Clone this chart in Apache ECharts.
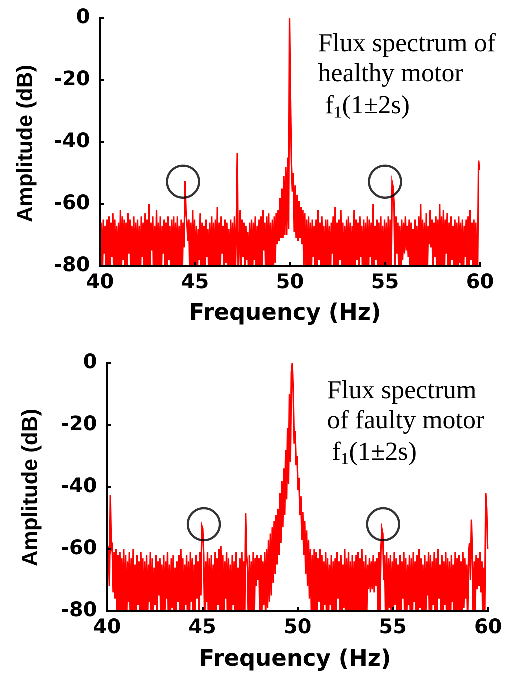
<!DOCTYPE html>
<html>
<head>
<meta charset="utf-8">
<title>Flux spectra</title>
<script src="https://cdn.jsdelivr.net/npm/echarts@6/dist/echarts.min.js"></script>
<style>
  html, body { margin: 0; padding: 0; background: #fff; }
  #chart { width: 505px; height: 675px; }
</style>
</head>
<body>
<div id="chart"></div>
<script>
// Spectrum bins: 40–60 Hz at 0.05 Hz resolution (401 bins per spectrum)
const FREQ_START = 40;
const FREQ_STEP = 0.05;

// Healthy motor flux spectrum, amplitude in dB (one row per Hz)
const healthyAmp = [
  -64, -85, -66, -84, -65, -76, -67, -86, -65, -83, -64, -88, -66, -77, -63, -85, -65, -82, -67, -84,
  -66, -85, -62, -83, -64, -78, -65, -86, -66, -84, -63, -76, -65, -87, -67, -82, -64, -85, -66, -84,
  -65, -84, -67, -86, -64, -77, -66, -85, -63, -82, -65, -88, -60, -84, -66, -75, -64, -86, -67, -83,
  -62, -85, -66, -84, -64, -86, -67, -76, -65, -83, -66, -85, -64, -78, -67, -84, -65, -86, -64, -82,
  -66, -85, -64, -85, -67, -84, -65, -86, -66, -74, -52.5, -63, -66, -72, -65, -84, -66, -85, -62, -84,
  -65, -86, -67, -84, -68, -78, -63, -85, -66, -83, -67, -87, -65, -77, -68, -84, -66, -86, -64, -82,
  -66, -84, -65, -85, -61, -86, -66, -86, -64, -76, -67, -85, -65, -79, -66, -84, -68, -87, -65, -83,
  -66, -85, -64, -82, -67, -43.5, -84, -84, -62, -86, -65, -77, -66, -85, -67, -78, -69, -86, -66, -84,
  -65, -85, -66, -78, -64, -86, -67, -84, -65, -83, -64, -86, -62, -75, -66, -85, -64, -84, -63, -82,
  -66, -85, -65, -83, -64, -79, -63, -73, -62, -72, -58, -71, -55, -71, -51, -70, -48, -70, -45, -68,
  0, -26, -47, -56, -50, -69, -54, -71, -57, -72, -59, -71, -61, -73, -62, -80, -63, -84, -65, -86,
  -64, -85, -66, -83, -65, -77, -67, -86, -65, -84, -62, -78, -66, -85, -64, -83, -67, -86, -65, -84,
  -65, -84, -67, -86, -66, -76, -64, -85, -61, -83, -66, -87, -65, -78, -62, -84, -66, -85, -67, -82,
  -65, -85, -64, -83, -66, -84, -67, -86, -62, -84, -65, -78, -66, -85, -64, -77, -67, -86, -65, -83,
  -66, -84, -64, -86, -65, -77, -66, -85, -60, -83, -67, -78, -65, -86, -66, -84, -64, -85, -67, -85,
  -65, -83, -66, -85, -64, -86, -65, -84, -53, -54.5, -60, -85, -64, -76, -66, -83, -67, -85, -65, -78,
  -66, -76, -64, -75, -67, -77, -65, -84, -66, -86, -68, -83, -65, -85, -67, -85, -64, -84, -60, -86,
  -65, -83, -66, -85, -63, -84, -67, -73, -62, -74, -65, -85, -66, -77, -64, -84, -65, -86, -60, -83,
  -64, -85, -62, -83, -65, -76, -63, -86, -66, -84, -64, -78, -67, -85, -65, -83, -66, -86, -64, -79,
  -66, -84, -65, -86, -67, -77, -65, -83, -64, -85, -62, -78, -66, -84, -65, -86, -66, -83, -80, -46,
  -49
];

// Faulty motor flux spectrum, amplitude in dB (one row per Hz)
const faultyAmp = [
  -59, -61, -60, -72, -42.5, -60, -59, -74, -61, -76, -60, -85, -62, -84, -61, -86, -63, -83, -60, -85,
  -62, -86, -64, -77, -61, -84, -63, -85, -60, -82, -65, -87, -62, -78, -64, -85, -61, -84, -63, -86,
  -64, -83, -62, -85, -65, -77, -61, -86, -63, -84, -66, -78, -62, -85, -64, -75, -63, -86, -65, -84,
  -62, -85, -64, -76, -61, -86, -65, -84, -63, -79, -62, -85, -66, -83, -64, -77, -62, -86, -60, -84,
  -63, -85, -65, -78, -62, -84, -64, -86, -61, -77, -63, -85, -65, -84, -62, -76, -64, -84, -61, -75,
  -52.5, -53.5, -62, -84, -64, -77, -61, -85, -63, -86, -62, -85, -65, -84, -61, -86, -63, -78, -60, -85,
  -59, -84, -62, -86, -64, -76, -61, -85, -63, -83, -65, -86, -62, -78, -64, -85, -61, -84, -66, -86,
  -63, -85, -61, -84, -64, -84, -48.5, -62, -66, -86, -62, -83, -64, -85, -61, -85, -63, -72, -62, -70,
  -63, -85, -62, -80, -64, -78, -61, -84, -60, -79, -57, -77, -55, -75, -53, -71, -51, -68, -49, -65,
  -47, -62, -42, -58, -38, -53, -34, -49, -28, -44, -21, -39, -10, -32, -3, 0, -10, -26, -22, -33,
  -30, -41, -37, -49, -43, -57, -48, -62, -51, -68, -54, -72, -57, -76, -60, -80, -62, -84, -60, -82,
  -61, -85, -63, -77, -60, -84, -62, -86, -64, -78, -61, -85, -63, -83, -65, -78, -62, -86, -64, -84,
  -63, -85, -61, -76, -64, -84, -62, -86, -65, -79, -60, -85, -63, -83, -61, -86, -64, -84, -62, -84,
  -64, -85, -62, -84, -61, -84, -63, -86, -60, -85, -64, -85, -62, -83, -65, -73, -63, -74, -64, -73,
  -62, -74, -64, -72, -63, -85, -61, -80, -60, -53.5, -55, -70, -62, -85, -61, -84, -63, -79, -62, -86,
  -64, -84, -61, -78, -63, -86, -65, -83, -62, -85, -64, -76, -61, -86, -63, -84, -65, -78, -62, -85,
  -63, -86, -61, -77, -64, -84, -62, -85, -60, -79, -63, -86, -65, -83, -62, -84, -64, -75, -61, -85,
  -62, -84, -64, -78, -61, -86, -63, -85, -60, -76, -65, -84, -62, -86, -64, -78, -61, -85, -63, -83,
  -64, -86, -62, -77, -65, -84, -61, -85, -63, -80, -62, -86, -64, -83, -61, -79, -63, -76, -65, -84,
  -62, -58, -70, -50.5, -62, -85, -64, -80, -62, -73, -63, -72, -61, -74, -64, -85, -66, -80, -42, -47,
  -60
];

// Circled sideband components f1(1±2s): [frequency Hz, amplitude dB]
const healthySidebands = [[44.37, -52.8], [55.0, -52.8]];
const faultySidebands = [[45.08, -52.0], [54.49, -52.0]];

// Axis ranges and tick spacing
const FREQ_MIN = 40, FREQ_MAX = 60, FREQ_TICK = 5;
const AMP_MIN = -80, AMP_MAX = 0, AMP_TICK = 20;

function toPairs(amp) {
  return amp.map((v, i) => [+(FREQ_START + i * FREQ_STEP).toFixed(2), v]);
}

const tickFont = { color: '#000', fontFamily: 'DejaVu Sans', fontWeight: 'bold', fontSize: 20 };
const axisLineStyle = { color: '#000', width: 2 };
const tickStyle = { color: '#000', width: 1.5 };

function xAxisFor(gridIndex) {
  return {
    type: 'value', gridIndex, min: FREQ_MIN, max: FREQ_MAX, interval: FREQ_TICK,
    axisLine: { show: true, onZero: false, lineStyle: axisLineStyle },
    axisTick: { show: true, inside: true, length: 4, lineStyle: tickStyle },
    axisLabel: Object.assign({ margin: 7 }, tickFont),
    splitLine: { show: false },
    z: 10
  };
}
function yAxisFor(gridIndex) {
  return {
    type: 'value', gridIndex, min: AMP_MIN, max: AMP_MAX, interval: AMP_TICK,
    axisLine: { show: true, onZero: false, lineStyle: axisLineStyle },
    axisTick: { show: true, inside: true, length: 4, lineStyle: tickStyle },
    axisLabel: Object.assign({ margin: 10 }, tickFont),
    splitLine: { show: false },
    z: 10
  };
}
// Spectrum drawn as a stair trace so each bin reads as a solid vertical stroke
function spectrumSeries(idx, amp) {
  return {
    type: 'line', xAxisIndex: idx, yAxisIndex: idx,
    data: toPairs(amp),
    step: 'middle',
    symbol: 'none', showSymbol: false, clip: true, silent: true,
    lineStyle: { color: '#ff0000', width: 1.6, join: 'miter' },
    z: 2
  };
}
function circleSeries(idx, pts) {
  return {
    type: 'scatter', xAxisIndex: idx, yAxisIndex: idx,
    data: pts, symbol: 'circle', symbolSize: 32, silent: true, clip: false,
    itemStyle: { color: 'rgba(0,0,0,0)', borderColor: '#000', borderWidth: 2.2 },
    z: 5
  };
}

const serif = '"Liberation Serif", "Times New Roman", serif';
function txt(text, x, y, size, family, weight, extra) {
  return Object.assign({
    type: 'text', x, y, silent: true,
    style: {
      text, x: 0, y: 0,
      font: (weight || 'normal') + ' ' + size + 'px ' + family,
      fill: '#000',
      align: 'left', verticalAlign: 'middle',
      textAlign: 'left', textVerticalAlign: 'middle'
    }
  }, extra || {});
}
function centered(el) {
  el.style.align = 'center'; el.style.textAlign = 'center';
  return el;
}

// Render at a higher backing resolution so sub-pixel stair segments are kept
const chart = echarts.init(document.getElementById('chart'), null, { renderer: 'canvas', devicePixelRatio: 4 });
chart.setOption({
  animation: false,
  backgroundColor: '#fff',
  grid: [
    { left: 100, top: 18, width: 380, height: 248 },
    { left: 107, top: 363, width: 386, height: 248 }
  ],
  xAxis: [xAxisFor(0), xAxisFor(1)],
  yAxis: [yAxisFor(0), yAxisFor(1)],
  series: [
    spectrumSeries(0, healthyAmp),
    spectrumSeries(1, faultyAmp),
    circleSeries(0, healthySidebands),
    circleSeries(1, faultySidebands)
  ],
  graphic: [
    // axis titles
    centered(txt('Amplitude (dB)', 26, 143.5, 22, '"Liberation Sans", Arial, sans-serif', 'bold', { rotation: Math.PI / 2 })),
    centered(txt('Frequency (Hz)', 285, 314, 22.5, '"DejaVu Sans", sans-serif', 'bold')),
    centered(txt('Amplitude (dB)', 31, 487.5, 22, '"Liberation Sans", Arial, sans-serif', 'bold', { rotation: Math.PI / 2 })),
    centered(txt('Frequency (Hz)', 295, 660, 22.5, '"DejaVu Sans", sans-serif', 'bold')),
    // healthy motor annotation
    txt('Flux spectrum of', 318, 44.5, 26, serif),
    txt('healthy motor', 318, 74.5, 26, serif),
    txt('f', 325, 106.5, 26, serif),
    txt('1', 333.5, 113, 17, serif),
    txt('(1±2s)', 342, 106.5, 26, serif),
    // faulty motor annotation
    txt('Flux spectrum', 327, 391.5, 26, serif),
    txt('of faulty motor', 327, 421.5, 26, serif),
    txt('f', 332, 453, 26, serif),
    txt('1', 340.5, 459.5, 17, serif),
    txt('(1±2s)', 349, 453, 26, serif)
  ]
});
</script>
</body>
</html>
